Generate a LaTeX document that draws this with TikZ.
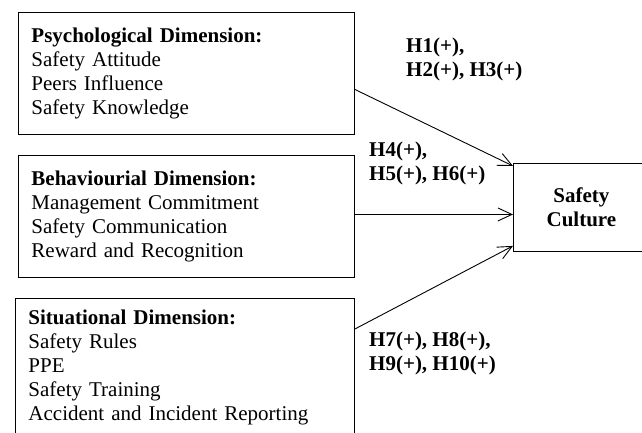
\documentclass[tikz,border=0pt]{standalone}
\usepackage{fontspec}
\setmainfont{Liberation Serif}
\usetikzlibrary{arrows.meta,calc}

\tikzset{
    dimbox/.style = {draw,line width = 0.9pt,anchor = north west,align = left,
        inner xsep = 13pt,text width = 310pt,font = \fontsize{21}{24}\selectfont},
    hyplabel/.style = {anchor = north west,align = left,inner sep = 0pt,
        font = \fontsize{21}{24}\selectfont\bfseries},
    hyparrow/.style = {line width = 0.9pt,-{Straight Barb[length = 14pt,width = 13pt]}}
}

\begin{document}
\begin{tikzpicture}[x = 1pt,y = -1pt]
    \useasboundingbox (0,0) rectangle (642,433);
    
    \node[dimbox,minimum height = 122pt] (psy) at (18,12)
        {\textbf{Psychological Dimension:}\\Safety Attitude\\Peers Influence\\Safety Knowledge};
    
    \node[dimbox,minimum height = 122pt] (beh) at (18,155)
        {\textbf{Behaviourial Dimension:}\\Management Commitment\\Safety Communication\\Reward and Recognition};
    
    \node[dimbox,minimum height = 139pt,text width = 313pt] (sit) at (15,298)
        {\textbf{Situational Dimension:}\\Safety Rules\\PPE\\Safety Training\\Accident and Incident Reporting};
    
    \node[draw,line width = 0.9pt,anchor = north west,minimum width = 136pt,minimum height = 88pt,
        align = center,font = \fontsize{21}{24}\selectfont\bfseries] (cult) at (513,163) {Safety\\Culture};
    
    \coordinate (psyout) at ($(psy.east)+(0,16)$);
    \coordinate (behout) at ($(beh.east)+(0,-2)$);
    \coordinate (sitout) at ($(sit.north east)+(0,31)$);
    
    \draw[hyparrow] (psyout) -- ($(cult.north west)+(0,3)$);
    \draw[hyparrow] (behout) -- (behout -| cult.west);
    \draw[hyparrow] (sitout) -- ($(cult.south west)+(0,-6)$);
    
    \node[hyplabel] (h1) at (406,38) {H1(+),\\H2(+), H3(+)};
    \node[hyplabel] (h4) at (369,142) {H4(+),\\H5(+), H6(+)};
    \node[hyplabel] (h7) at (369,332) {H7(+), H8(+),\\H9(+), H10(+)};
\end{tikzpicture}
\end{document}
